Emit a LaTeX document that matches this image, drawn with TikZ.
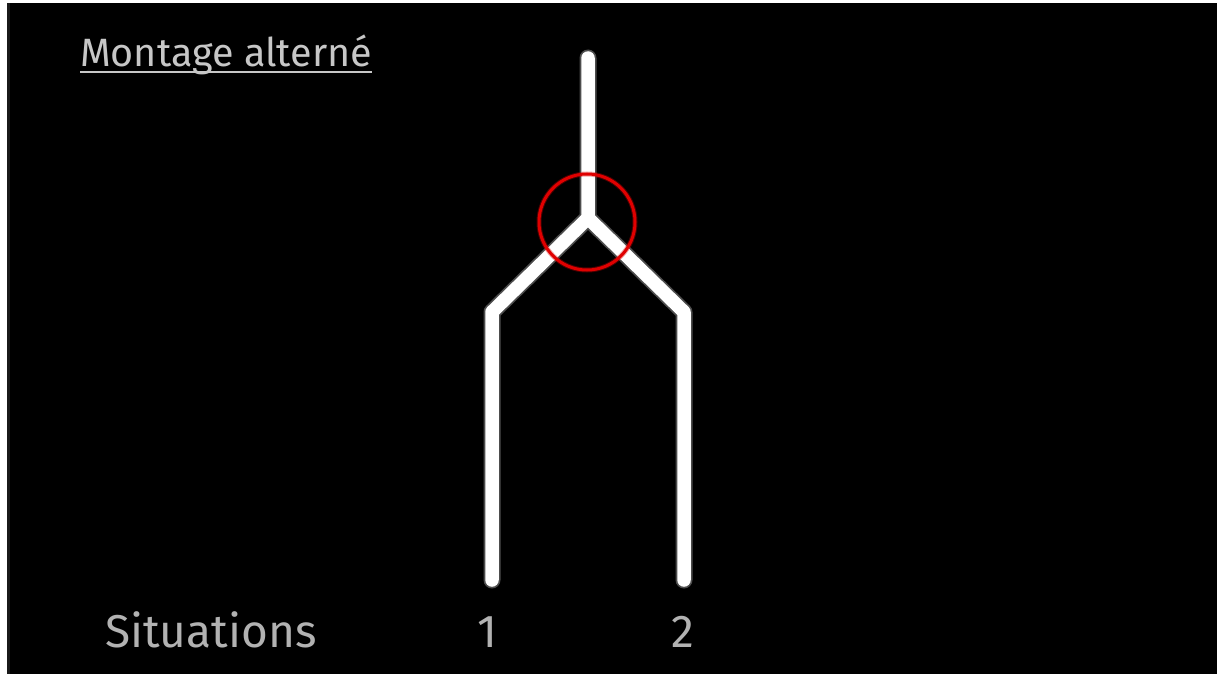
\documentclass[tikz,border=0pt]{standalone}
\usepackage{fontspec}
\usetikzlibrary{calc}
\newfontfamily\thinfont{Fira Sans}
\begin{document}
\begin{tikzpicture}[x=1pt,y=-1pt,
  branch/.style={line width=13.5pt, line cap=round, line join=round, white},
  glow/.style={line width=17pt, line cap=round, line join=round, white, opacity=0.3},
  label/.style={text=black!30, inner sep=0pt, anchor=base, font=\thinfont\fontsize{46}{46}\selectfont},
  title/.style={text=black!22, inner sep=0pt, anchor=base west, font=\thinfont\fontsize{39.5}{39.5}\selectfont}]
\useasboundingbox (0,0) rectangle (1217,674);
\fill[white] (0,0) rectangle (1217,674);
\fill[black!90] (7,3) rectangle (10,674);
\fill[black] (10,3) rectangle (1217,674);
% coordinates
\coordinate (top) at (588,58);
\coordinate (junc) at (588,218);
\coordinate (lc) at (492,312);
\coordinate (rc) at (684,312);
\coordinate (lb) at (492,580);
\coordinate (rb) at (684,580);
\draw[glow] (top) -- (junc) (lb) -- (lc) -- (junc) -- (rc) -- (rb);
\draw[branch] (top) -- (junc) (lb) -- (lc) -- (junc) -- (rc) -- (rb);
% highlight circle
\node (ring) [draw=red!85!black, line width=5pt, opacity=0.35, circle, minimum size=96pt, inner sep=0pt] at (587,222) {};
\node (ringc) [draw=red!88!black, line width=3pt, circle, minimum size=96pt, inner sep=0pt] at (587,222) {};
% texts
\node[title] (t) at (80,67) {Montage altern\'e};
\draw[black!22, line width=1.5pt] ($(t.base west)+(0,5)$) -- ($(t.base east)+(0,5)$);
\node[label, anchor=base west] (sit) at (105,647) {Situations};
\node[label] (n1) at (487,647) {1};
\node[label] (n2) at (683,647) {2};
\end{tikzpicture}
\end{document}
